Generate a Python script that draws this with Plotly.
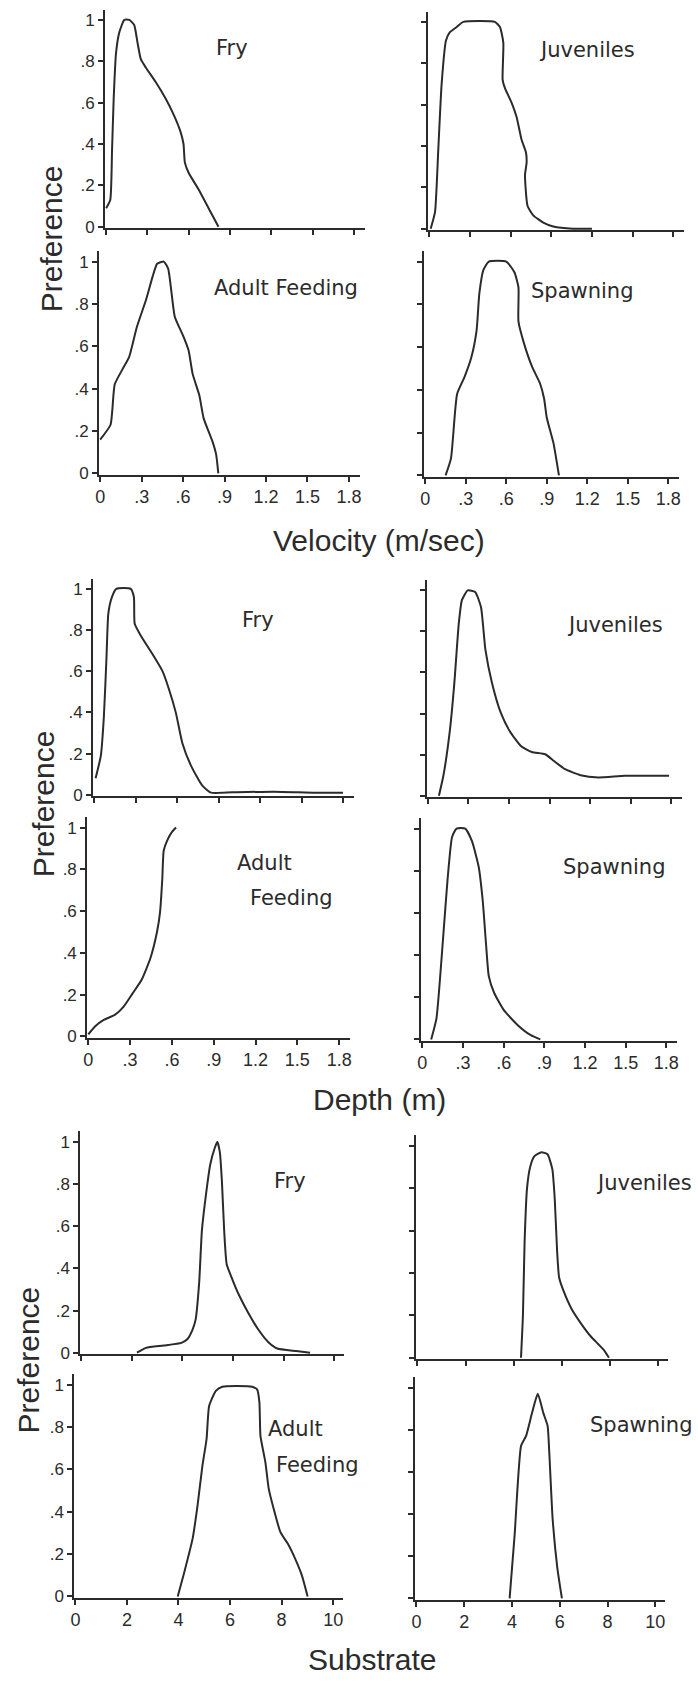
import plotly.graph_objects as go

W, H = 698, 1684

# ---------------- habitat preference curves ----------------
# Velocity (m/sec)
vel_fry_x = [0.0, 0.03, 0.043, 0.055, 0.072, 0.096, 0.132, 0.168, 0.204, 0.228, 0.252, 0.288,
             0.36, 0.432, 0.492, 0.54, 0.562, 0.572, 0.6, 0.672, 0.744, 0.816]
vel_fry_y = [0.09, 0.13, 0.37, 0.62, 0.84, 0.94, 1.0, 1.0, 0.975, 0.89, 0.81, 0.77,
             0.70, 0.62, 0.54, 0.46, 0.40, 0.31, 0.26, 0.18, 0.09, 0.0]

vel_juv_x = [0.01, 0.042, 0.066, 0.091, 0.123, 0.152, 0.202, 0.251, 0.484, 0.521, 0.546, 0.541,
             0.558, 0.607, 0.644, 0.681, 0.713, 0.718, 0.706, 0.725, 0.767, 0.841, 0.915, 1.06, 1.2]
vel_juv_y = [0.0, 0.08, 0.38, 0.70, 0.91, 0.95, 0.975, 1.0, 1.0, 0.975, 0.90, 0.72,
             0.68, 0.61, 0.54, 0.43, 0.37, 0.32, 0.26, 0.11, 0.065, 0.03, 0.011, 0.0, 0.0]

vel_adf_x = [0.0, 0.075, 0.105, 0.16, 0.21, 0.265, 0.332, 0.38, 0.412, 0.46, 0.492, 0.54,
             0.6, 0.64, 0.669, 0.717, 0.749, 0.813, 0.839, 0.855]
vel_adf_y = [0.16, 0.23, 0.42, 0.49, 0.55, 0.69, 0.82, 0.93, 0.99, 1.0, 0.967, 0.74,
             0.65, 0.58, 0.47, 0.37, 0.26, 0.15, 0.09, 0.0]

vel_spw_x = [0.15, 0.19, 0.235, 0.29, 0.34, 0.38, 0.40, 0.43, 0.47, 0.6, 0.66, 0.69,
             0.69, 0.73, 0.79, 0.85, 0.88, 0.9, 0.95, 0.99]
vel_spw_y = [0.0, 0.08, 0.38, 0.46, 0.55, 0.68, 0.85, 0.96, 1.0, 1.0, 0.95, 0.88,
             0.72, 0.62, 0.51, 0.43, 0.36, 0.27, 0.15, 0.0]

# Depth (m)
dep_fry_x = [0.01, 0.048, 0.07, 0.089, 0.102, 0.128, 0.16, 0.264, 0.287, 0.293, 0.335, 0.415,
             0.494, 0.542, 0.59, 0.638, 0.701, 0.781, 0.845, 1.0, 1.3, 1.6, 1.8]
dep_fry_y = [0.08, 0.19, 0.38, 0.67, 0.88, 0.96, 1.0, 1.0, 0.96, 0.83, 0.775, 0.69,
             0.60, 0.51, 0.40, 0.25, 0.14, 0.045, 0.01, 0.012, 0.015, 0.01, 0.01]

dep_juv_x = [0.082, 0.115, 0.164, 0.196, 0.229, 0.252, 0.295, 0.35, 0.393, 0.426, 0.475, 0.54,
             0.606, 0.688, 0.769, 0.868, 0.933, 1.015, 1.129, 1.261, 1.457, 1.784]
dep_juv_y = [0.0, 0.097, 0.323, 0.548, 0.839, 0.952, 1.0, 0.992, 0.919, 0.71, 0.548, 0.403,
             0.314, 0.242, 0.213, 0.202, 0.169, 0.129, 0.10, 0.089, 0.097, 0.097]

dep_adf_x = [0.0, 0.048, 0.111, 0.19, 0.254, 0.318, 0.382, 0.445, 0.493, 0.515, 0.531, 0.541,
             0.566, 0.597, 0.63]
dep_adf_y = [0.01, 0.048, 0.079, 0.103, 0.143, 0.206, 0.27, 0.373, 0.50, 0.595, 0.754, 0.889,
             0.937, 0.976, 1.0]

dep_spw_x = [0.065, 0.104, 0.154, 0.186, 0.219, 0.252, 0.317, 0.366, 0.415, 0.445, 0.47, 0.49,
             0.53, 0.6, 0.7, 0.8, 0.87]
dep_spw_y = [0.0, 0.10, 0.49, 0.76, 0.96, 1.0, 1.0, 0.94, 0.82, 0.66, 0.45, 0.30,
             0.22, 0.14, 0.07, 0.02, 0.0]

# Substrate
sub_fry_x = [2.2, 2.56, 3.26, 3.96, 4.2, 4.4, 4.52, 4.66, 4.77, 4.93, 5.1, 5.28, 5.38, 5.48,
             5.56, 5.65, 5.75, 6.0, 6.25, 6.6, 7.0, 7.4, 7.75, 8.5, 9.05]
sub_fry_y = [0.0, 0.023, 0.034, 0.047, 0.065, 0.11, 0.157, 0.33, 0.58, 0.75, 0.893, 0.972, 1.0, 0.95,
             0.815, 0.58, 0.42, 0.34, 0.27, 0.19, 0.11, 0.05, 0.02, 0.008, 0.0]

sub_juv_x = [4.3, 4.38, 4.45, 4.55, 4.68, 4.85, 5.15, 5.4, 5.6, 5.7, 5.8, 5.88, 6.05, 6.4,
             6.8, 7.2, 7.5, 7.75, 7.95]
sub_juv_y = [0.0, 0.2, 0.55, 0.8, 0.9, 0.95, 0.97, 0.96, 0.89, 0.75, 0.5, 0.38, 0.32, 0.23,
             0.16, 0.10, 0.065, 0.035, 0.0]

sub_adf_x = [3.97, 4.23, 4.55, 4.74, 4.93, 5.09, 5.19, 5.45, 5.7, 6.86, 7.05, 7.14, 7.18, 7.37,
             7.5, 7.69, 7.95, 8.27, 8.52, 8.78, 9.01]
sub_adf_y = [0.0, 0.117, 0.274, 0.43, 0.618, 0.743, 0.90, 0.97, 0.99, 0.99, 0.977, 0.915, 0.758, 0.634,
             0.509, 0.415, 0.305, 0.243, 0.18, 0.102, 0.0]

sub_spw_x = [3.9, 4.11, 4.38, 4.59, 4.84, 5.08, 5.31, 5.49, 5.56, 5.7, 5.9, 6.09]
sub_spw_y = [0.0, 0.30, 0.724, 0.771, 0.88, 0.97, 0.88, 0.818, 0.693, 0.379, 0.143, 0.0]

# ---------------- tick labels ----------------
pref_ticks = [0, 0.2, 0.4, 0.6, 0.8, 1.0]
pref_labels = ["0", ".2", ".4", ".6", ".8", "1"]
vd_ticks = [0, 0.3, 0.6, 0.9, 1.2, 1.5, 1.8]
vd_labels = ["0", ".3", ".6", ".9", "1.2", "1.5", "1.8"]
sub_ticks = [0, 2, 4, 6, 8, 10]
sub_labels = ["0", "2", "4", "6", "8", "10"]

INK = "#2b2b2b"
FONT = "Liberation Sans, Arial, sans-serif"
LABEL_FONT = "DejaVu Sans, Liberation Sans, sans-serif"

# (xs, ys, x-origin px, px per x unit, x max, y-origin px, px per y unit,
#  x tick set, show x labels, show y labels)
panels = [
    (vel_fry_x, vel_fry_y, 103, 138.9, 1.88, 228, 208, "vd", False, True),
    (vel_juv_x, vel_juv_y, 429, 136.7, 1.88, 230, 208, "vd", False, False),
    (vel_adf_x, vel_adf_y, 97, 139.4, 1.88, 476, 213, "vd", True, True),
    (vel_spw_x, vel_spw_y, 425, 136.1, 1.88, 478, 215, "vd", True, False),
    (dep_fry_x, dep_fry_y, 91, 139.4, 1.88, 799, 207, "vd", False, True),
    (dep_juv_x, dep_juv_y, 427.5, 136.4, 1.88, 800, 206.5, "vd", False, False),
    (dep_adf_x, dep_adf_y, 85, 140.6, 1.88, 1042, 210, "vd", True, True),
    (dep_spw_x, dep_spw_y, 422, 136.7, 1.88, 1045, 212, "vd", True, False),
    (sub_fry_x, sub_fry_y, 78, 25.5, 10.4, 1360, 212, "sub", False, True),
    (sub_juv_x, sub_juv_y, 417, 24.3, 10.4, 1365, 213, "sub", False, False),
    (sub_adf_x, sub_adf_y, 72, 26.0, 10.4, 1605, 213, "sub", True, True),
    (sub_spw_x, sub_spw_y, 416, 24.1, 10.4, 1607, 212, "sub", True, False),
]

fig = go.Figure()
layout = {}
for i, (xs, ys, x0, kx, xhi, y0, ky, tset, xlab, ylab) in enumerate(panels, start=1):
    xlo = -0.004 * xhi
    ylo, yhi = -0.006, 1.05
    xdom = [(x0 + xlo * kx) / W, (x0 + xhi * kx) / W]
    ydom = [1 - (y0 - ylo * ky) / H, 1 - (y0 - yhi * ky) / H]
    sfx = "" if i == 1 else str(i)
    fig.add_trace(go.Scatter(
        x=xs, y=ys, mode="lines", xaxis="x" + sfx, yaxis="y" + sfx,
        line=dict(color=INK, width=2, shape="spline", smoothing=0.5),
        hoverinfo="skip", showlegend=False))
    tv, tt = (vd_ticks, vd_labels) if tset == "vd" else (sub_ticks, sub_labels)
    layout["xaxis" + sfx] = dict(
        domain=xdom, range=[xlo, xhi], anchor="y" + sfx,
        showline=True, linecolor=INK, linewidth=2, mirror=False,
        ticks="outside", ticklen=5, tickwidth=1.5, tickcolor=INK,
        tickvals=tv, ticktext=tt, showticklabels=xlab,
        tickfont=dict(family=FONT, size=18, color=INK),
        showgrid=False, zeroline=False, fixedrange=True)
    layout["yaxis" + sfx] = dict(
        domain=ydom, range=[ylo, yhi], anchor="x" + sfx,
        showline=True, linecolor=INK, linewidth=2,
        ticks="outside", ticklen=5, tickwidth=1.5, tickcolor=INK,
        tickvals=pref_ticks, ticktext=pref_labels, showticklabels=ylab,
        tickfont=dict(family=FONT, size=17, color=INK),
        showgrid=False, zeroline=False, fixedrange=True)


def label(text, px, py, size=21, angle=0, family=LABEL_FONT):
    return dict(text=text, x=px / W, y=1 - py / H, xref="paper", yref="paper",
                showarrow=False, textangle=angle, xanchor="center", yanchor="middle",
                font=dict(family=family, size=size, color=INK))


annotations = [
    label("Fry", 230, 48), label("Juveniles", 588, 50),
    label("Adult Feeding", 284, 290), label("Spawning", 584, 293),
    label("Velocity (m/sec)", 378, 543, size=30, family=FONT),
    label("Fry", 256, 623), label("Juveniles", 616, 628),
    label("Adult", 263, 868), label("Feeding", 290, 903), label("Spawning", 616, 872),
    label("Depth (m)", 379, 1105, size=30, family=FONT),
    label("Fry", 288, 1187), label("Juveniles", 646, 1189),
    label("Adult", 294, 1437), label("Feeding", 316, 1473), label("Spawning", 643, 1433),
    label("Substrate", 371, 1668, size=30, family=FONT),
    label("Preference", 48, 240, size=30, angle=-90, family=FONT),
    label("Preference", 40, 808, size=30, angle=-90, family=FONT),
    label("Preference", 25, 1367, size=30, angle=-90, family=FONT),
]

fig.update_layout(
    width=W, height=H, margin=dict(l=0, r=0, t=0, b=0),
    paper_bgcolor="white", plot_bgcolor="white",
    annotations=annotations, showlegend=False, **layout)

fig.write_html("out.html", config={"displayModeBar": False})
